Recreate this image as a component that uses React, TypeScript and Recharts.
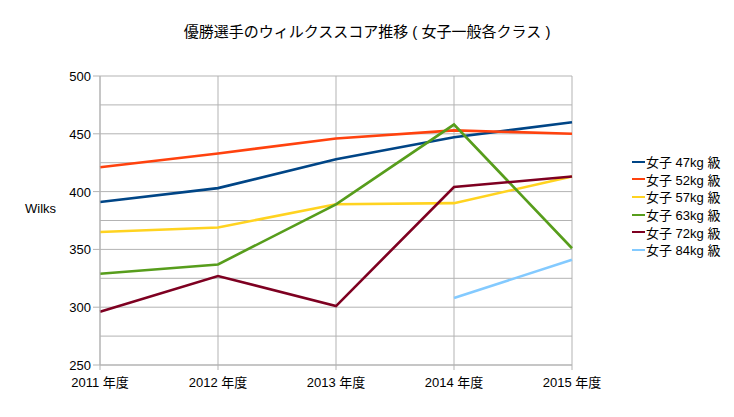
import { LineChart, Line, XAxis, YAxis, CartesianGrid } from 'recharts';

const years = ['2011 年度', '2012 年度', '2013 年度', '2014 年度', '2015 年度'];
const w47 = [391, 403, 428, 447, 460];
const w52 = [421, 433, 446, 453, 450];
const w57 = [365, 369, 389, 390, 413];
const w63 = [329, 337, 389, 458, 351];
const w72 = [296, 327, 301, 404, 413];
const w84 = [null, null, null, 308, 341];
const yTicks = [250, 275, 300, 325, 350, 375, 400, 425, 450, 475, 500];

const series = [
  { key: 'w47', name: '女子 47kg 級', color: '#004586', values: w47 },
  { key: 'w52', name: '女子 52kg 級', color: '#ff420e', values: w52 },
  { key: 'w57', name: '女子 57kg 級', color: '#ffd320', values: w57 },
  { key: 'w63', name: '女子 63kg 級', color: '#579d1c', values: w63 },
  { key: 'w72', name: '女子 72kg 級', color: '#7e0021', values: w72 },
  { key: 'w84', name: '女子 84kg 級', color: '#83caff', values: w84 },
];

const data = years.map((year, i) => {
  const row: Record<string, any> = { year };
  series.forEach((s) => { row[s.key] = s.values[i]; });
  return row;
});

const font = '"Liberation Sans", "Noto Sans CJK JP", sans-serif';

// only every 50 gets a label and a tick mark
const YTick = (props: any) => {
  const { x, y, payload } = props;
  if (payload.value % 50 !== 0) return null;
  return (
    <g>
      <line x1={x + 1} x2={x + 8} y1={y} y2={y} stroke="#b3b3b3" />
      <text x={x - 1} y={y} dy={5} textAnchor="end" fontSize={13} fill="#000" fontFamily={font}>
        {payload.value}
      </text>
    </g>
  );
};

const XTick = (props: any) => {
  const { x, y, payload } = props;
  return (
    <text x={x} y={y} dy={15} textAnchor="middle" fontSize={13} fill="#000" fontFamily={font}>
      {payload.value}
    </text>
  );
};

const LegendBox = () => (
  <div style={{ position: 'absolute', left: 632, top: 153, fontSize: 13, color: '#000' }}>
    {series.map((s) => (
      <div key={s.key} style={{ display: 'flex', alignItems: 'center', height: 17.6 }}>
        <span style={{ display: 'inline-block', width: 13, height: 2, background: s.color, marginRight: 1 }} />
        <span>{s.name}</span>
      </div>
    ))}
  </div>
);

export default function App() {
  return (
    <div style={{ position: 'absolute', left: 0, top: 0, width: 734, height: 417, background: '#fff', fontFamily: font }}>
      <div style={{ position: 'absolute', top: 20, left: 0, width: 734, textAlign: 'center', fontSize: 15, color: '#000' }}>
        優勝選手のウィルクススコア推移 ( 女子一般各クラス )
      </div>
      <div style={{ position: 'absolute', left: 25, top: 201, fontSize: 13, color: '#000' }}>Wilks</div>
      <LineChart width={734} height={417} data={data} margin={{ top: 76, right: 162, bottom: 22, left: 40 }}>
        <CartesianGrid stroke="#b3b3b3" strokeDasharray="" />
        <XAxis
          dataKey="year"
          height={30}
          stroke="#b3b3b3"
          tickLine={{ stroke: '#b3b3b3' }}
          tickSize={5}
          padding={{ left: 0, right: 0 }}
          tick={<XTick />}
          interval={0}
        />
        <YAxis
          domain={[250, 500]}
          ticks={yTicks}
          width={60}
          stroke="#b3b3b3"
          tickLine={false}
          tick={<YTick />}
          interval={0}
        />
        {series.map((s) => (
          <Line
            key={s.key}
            dataKey={s.key}
            name={s.name}
            stroke={s.color}
            strokeWidth={2.6}
            dot={false}
            activeDot={false}
            type="linear"
            isAnimationActive={false}
          />
        ))}
      </LineChart>
      <LegendBox />
    </div>
  );
}
